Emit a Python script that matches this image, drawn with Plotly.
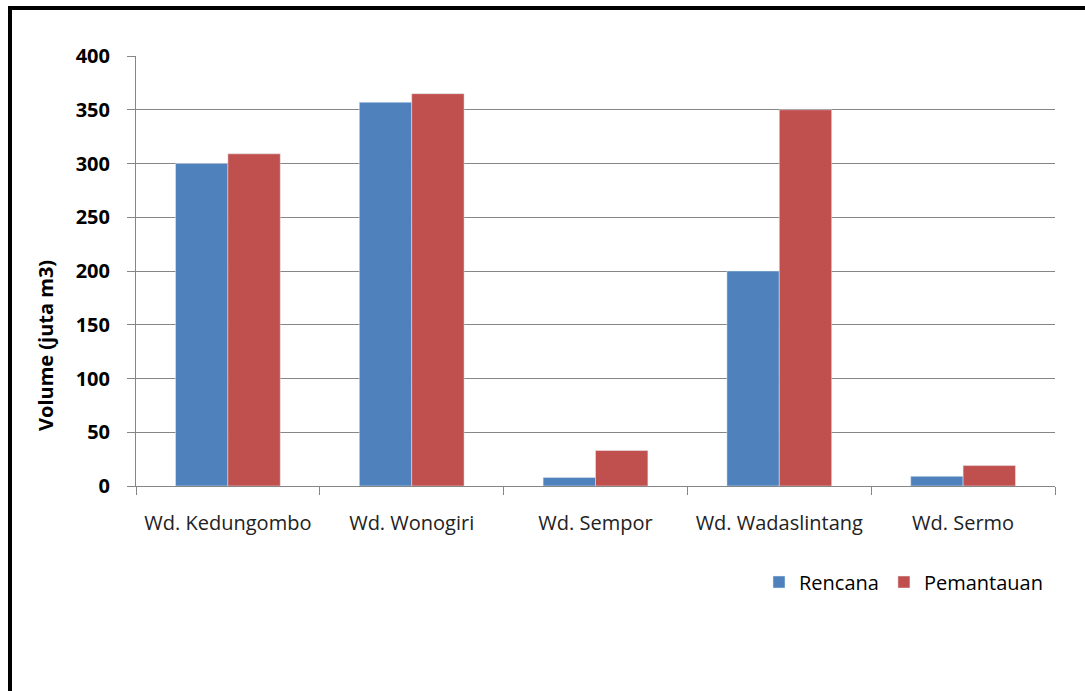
import plotly.graph_objects as go

categories = ["Wd. Kedungombo", "Wd. Wonogiri", "Wd. Sempor", "Wd. Wadaslintang", "Wd. Sermo"]
rencana = [300, 357, 8, 200, 9]
pemantauan = [309, 365, 33, 350, 19]

W, H = 1085, 691
L, R, T, B = 136, 1055, 56, 486

def px(x):
    return (x - L) / (R - L)

def py(y):
    return (B - y) / (B - T)

font = "Open Sans"
fig = go.Figure()
fig.add_trace(go.Bar(x=categories, y=rencana, name="Rencana", marker_color="#4F81BD"))
fig.add_trace(go.Bar(x=categories, y=pemantauan, name="Pemantauan", marker_color="#C0504D"))

fig.update_layout(
    width=W, height=H,
    margin=dict(l=L, r=W - R, t=T, b=H - B, autoexpand=False),
    paper_bgcolor="white", plot_bgcolor="white",
    barmode="group", bargap=0.43, bargroupgap=0,
    font=dict(family=font, color="black"),
    showlegend=True,
    legend=dict(orientation="h", x=px(1048), xanchor="right", y=py(582), yanchor="middle",
                font=dict(size=20, family=font), itemwidth=30, traceorder="normal"),
    xaxis=dict(type="category", showline=True, linecolor="#868686", linewidth=1,
               ticks="outside", ticklen=8, tickcolor="#868686", tickson="boundaries",
               ticklabelstandoff=19, tickangle=0,
               tickfont=dict(size=20, family=font, color="#222"), showgrid=False),
    yaxis=dict(range=[0, 400], dtick=50, showline=True, linecolor="#868686", linewidth=1,
               ticks="outside", ticklen=8, tickcolor="#868686", ticklabelstandoff=13,
               showgrid=True, gridcolor="#868686", gridwidth=1, zeroline=False,
               tickfont=dict(size=20, family=font, color="black", weight="bold")),
    annotations=[
        dict(text="<b>Volume (juta m3)</b>", xref="paper", yref="paper", x=px(45), y=py(346),
             xanchor="center", yanchor="middle", textangle=-90, showarrow=False,
             font=dict(size=20, family=font, color="black")),
    ],
    shapes=[
        dict(type="line", xref="paper", yref="paper", x0=px(10), x1=px(10), y0=py(8), y1=py(H + 5),
             line=dict(color="black", width=4)),
        dict(type="line", xref="paper", yref="paper", x0=px(8), x1=px(W + 5), y0=py(8), y1=py(8),
             line=dict(color="black", width=4)),
    ],
)

fig.write_html("out.html", config={"displayModeBar": False},
               post_script="document.body.style.margin='0';document.body.style.overflow='hidden';")
